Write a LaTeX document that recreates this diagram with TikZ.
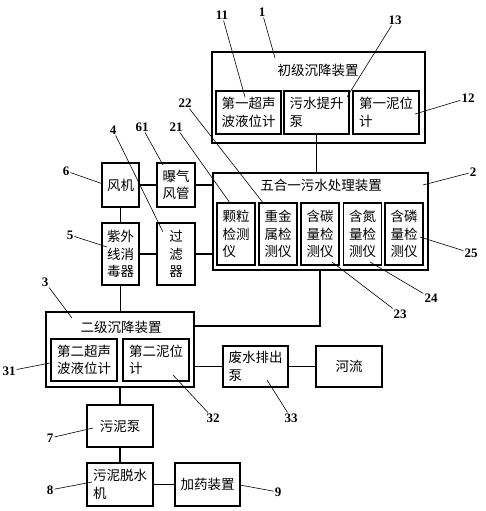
\documentclass[tikz,border=0pt]{standalone}
\usepackage{fontspec}
\setmainfont{Liberation Serif}
\newfontfamily\cjk{Noto Sans CJK SC}
\usepackage{tikz}
\usetikzlibrary{positioning}
\tikzset{>=latex}

\begin{document}
\begin{tikzpicture}[x=1pt,y=-1pt]
    \tikzset{
      unit/.style={draw, line width=1.2pt, inner sep=0pt},
      part/.style={draw, line width=1.2pt, inner sep=0pt, align=left,
        font=\cjk\fontsize{13.5}{17.5}\selectfont},
      title/.style={font=\cjk\fontsize{13.5}{16}\selectfont, inner sep=0pt},
      num/.style={font=\bfseries\fontsize{13}{13}\selectfont, inner sep=1pt},
      lead/.style={line width=0.6pt},
      link/.style={line width=1.2pt},
    }
    \useasboundingbox (0,0) rectangle (486,511);

    % Primary settling unit.
    \node[unit, minimum width=213pt, minimum height=91pt] (b1) at (318.5,97.5) {};
    \node[title] (t1) at (318,70) {初级沉降装置};
    \node[part, minimum width=65pt, minimum height=43pt, text width=54pt] (p11) at (248.5,112.5) {第一超声\\波液位计};
    \node[part, minimum width=65pt, minimum height=43pt, text width=54pt] (p13) at (316.5,112.5) {污水提升\\泵};
    \node[part, minimum width=66pt, minimum height=43pt, text width=54pt] (p12) at (386,112.5) {第一泥位\\计};

    % Five-in-one treatment unit.
    \node[unit, minimum width=215pt, minimum height=97pt] (b2) at (320.5,221.5) {};
    \node[title] (t2) at (321,185) {五合一污水处理装置};
    \node[part, minimum width=38pt, minimum height=62pt, text width=27pt] (p21) at (236,234)   {颗粒\\检测\\仪};
    \node[part, minimum width=38pt, minimum height=62pt, text width=27pt] (p22) at (278,234)   {重金\\属检\\测仪};
    \node[part, minimum width=38pt, minimum height=62pt, text width=27pt] (p23) at (320,234)   {含碳\\量检\\测仪};
    \node[part, minimum width=38pt, minimum height=62pt, text width=27pt] (p24) at (362.5,234) {含氮\\量检\\测仪};
    \node[part, minimum width=38pt, minimum height=62pt, text width=27pt] (p25) at (404,234)   {含磷\\量检\\测仪};

    % Air and disinfection.
    \node[part, align=center, minimum width=37pt, minimum height=44pt] (fan)  at (120.5,185) {风机};
    \node[part, align=center, minimum width=38pt, minimum height=44pt] (aer)  at (176,185)   {曝气\\风管};
    \node[part, minimum width=37pt, minimum height=62pt, text width=27pt] (uv) at (120.5,254) {紫外\\线消\\毒器};
    \node[part, align=center, minimum width=38pt, minimum height=62pt] (filt) at (176,254)   {过\\滤\\器};

    % Secondary settling unit.
    \node[unit, minimum width=148pt, minimum height=75pt] (b3) at (120,349.5) {};
    \node[title] (t3) at (121,327) {二级沉降装置};
    \node[part, minimum width=66pt, minimum height=42pt, text width=54pt] (p31) at (84,360)  {第二超声\\波液位计};
    \node[part, minimum width=66pt, minimum height=42pt, text width=54pt] (p32) at (156,360) {第二泥位\\计};
    \node[part, minimum width=65pt, minimum height=41pt, text width=54pt] (drain) at (255.5,366.5) {废水排出\\泵};
    \node[part, align=center, minimum width=66pt, minimum height=41pt] (river) at (349,366.5) {河流};

    % Sludge line.
    \node[part, align=center, minimum width=66pt, minimum height=42pt] (sp)  at (120,426)   {污泥泵};
    \node[part, minimum width=66pt, minimum height=43pt, text width=54pt] (dw) at (120,484.5) {污泥脱水\\机};
    \node[part, align=center, minimum width=65pt, minimum height=43pt] (dose) at (207.5,484.5) {加药装置};

    % Connectors.
    \coordinate (j23) at (320,326);
    \draw[link] (p13.south) -- (p13.south |- b2.north);
    \draw[link] (b2.south -| j23) -- (j23) -- (j23 -| b3.east);
    \draw[link] (fan) -- (aer);
    \draw[link] (aer.east) -- (aer.east -| b2.west);
    \draw[link] (fan) -- (uv);
    \draw[link] (uv) -- (filt);
    \draw[link] (filt.east) -- (filt.east -| b2.west);
    \draw[link] (uv.south) -- (uv.south |- b3.north);
    \draw[link] (drain.west -| b3.east) -- (drain.west);
    \draw[link] (drain) -- (river);
    \draw[link] (b3.south -| sp.north) -- (sp.north);
    \draw[link] (sp) -- (dw);
    \draw[link] (dw) -- (dose);

    % Reference numerals.
    \node[num] (n1)  at (262,12)  {1};   \coordinate (e1)  at (275,58);
    \node[num] (n11) at (222,15)  {11};  \coordinate (e11) at (245,97);
    \node[num] (n13) at (395,20)  {13};  \coordinate (e13) at (347,97);
    \node[num] (n12) at (468,98)  {12};  \coordinate (e12) at (415,114);
    \node[num] (n22) at (185,103) {22};  \coordinate (e22) at (264,204);
    \node[num] (n21) at (176,127) {21};  \coordinate (e21) at (230,203);
    \node[num] (n61) at (142,127) {61};  \coordinate (e61) at (163,165);
    \node[num] (n4)  at (113,130) {4};   \coordinate (e4)  at (163,232);
    \node[num] (n6)  at (66,171)  {6};   \coordinate (e6)  at (103,184);
    \node[num] (n5)  at (70,235)  {5};   \coordinate (e5)  at (107,247);
    \node[num] (n2)  at (473,172) {2};   \coordinate (e2)  at (423,185);
    \node[num] (n25) at (471,253) {25};  \coordinate (e25) at (420,237);
    \node[num] (n24) at (431,298) {24};  \coordinate (e24) at (370,262);
    \node[num] (n23) at (400,314) {23};  \coordinate (e23) at (332,262);
    \node[num] (n3)  at (45,282)  {3};   \coordinate (e3)  at (72,318);
    \node[num] (n31) at (9,371)   {31};  \coordinate (e31) at (50,363);
    \node[num] (n32) at (213,418) {32};  \coordinate (e32) at (173,375);
    \node[num] (n33) at (291,418) {33};  \coordinate (e33) at (267,380);
    \node[num] (n7)  at (50,438)  {7};   \coordinate (e7)  at (93,428);
    \node[num] (n8)  at (50,490)  {8};   \coordinate (e8)  at (92,482);
    \node[num] (n9)  at (278,492) {9};   \coordinate (e9)  at (240,485);
    \foreach \n in {1,11,13,12,22,21,61,4,6,5,2,25,24,23,3,31,32,33,7,8,9}
      \draw[lead] (n\n) -- (e\n);

\end{tikzpicture}
\end{document}
